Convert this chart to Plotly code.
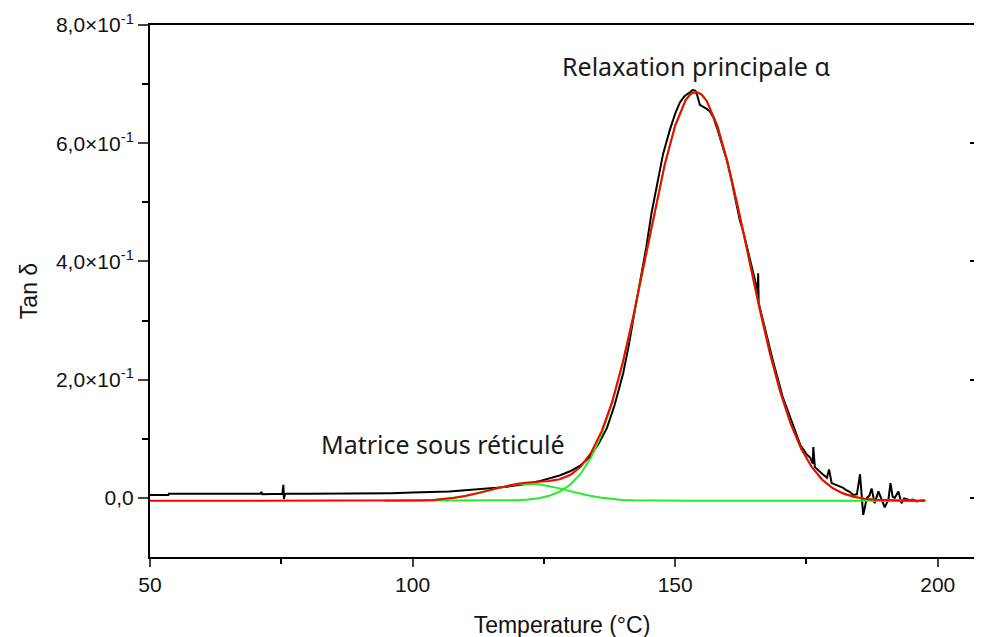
import plotly.graph_objs as go

# raw tan delta measurement (black)
black_T = [50, 53.5, 53.6, 71.0, 71.2, 71.4, 75.2, 75.4, 75.5, 75.7, 80, 90, 95.5, 96, 100, 104, 107, 110,
           113.4, 116, 118, 119.8, 122, 124, 126, 128, 130, 132, 133.8, 135.5, 137, 138.5, 140.1, 141.2,
           142.3, 143.6, 144.5, 145.5, 146.6, 147.7, 149, 150, 150.9, 151.8, 152.8, 153.3, 153.8, 154.2,
           154.7, 155.3, 156, 156.6, 157.3, 158, 158.5, 159.2, 159.8, 160.7, 161.5, 162.3, 163.1, 163.9,
           164.7, 165.5, 165.7, 165.8, 165.9, 166.5, 167.5, 168.5, 169.5, 170.5, 171.5, 172.5, 173.8,
           175.0, 175.7, 176.2, 176.3, 176.6, 177.4, 178.2, 178.9, 179.3, 179.8, 180.6, 181.4, 182.0,
           182.6, 183.3, 183.9, 184.6, 185.2, 185.5, 185.8, 186.5, 187.0, 187.4, 188, 188.7, 189.3, 189.9,
           190.6, 191, 191.4, 191.8, 192.5, 193.1, 193.6, 194.1, 194.7, 195.3, 196, 196.6, 197.1, 197.6]
black_tan = [0.005, 0.005, 0.007, 0.007, 0.010, 0.006, 0.007, 0.022, -0.002, 0.007, 0.007, 0.007, 0.007,
             0.008, 0.009, 0.010, 0.011, 0.013, 0.015, 0.017, 0.019, 0.021, 0.024, 0.028, 0.033, 0.038,
             0.045, 0.055, 0.070, 0.093, 0.118, 0.158, 0.211, 0.260, 0.316, 0.378, 0.424, 0.482, 0.535,
             0.582, 0.623, 0.650, 0.669, 0.680, 0.686, 0.690, 0.689, 0.681, 0.665, 0.662, 0.658, 0.654,
             0.643, 0.625, 0.611, 0.590, 0.572, 0.538, 0.503, 0.470, 0.446, 0.418, 0.386, 0.357, 0.343,
             0.380, 0.330, 0.310, 0.272, 0.236, 0.203, 0.170, 0.146, 0.120, 0.090, 0.074, 0.068, 0.058,
             0.086, 0.052, 0.045, 0.039, 0.034, 0.048, 0.025, 0.022, 0.019, 0.017, 0.013, 0.010, 0.005,
             0.006, 0.040, 0.004, -0.029, 0.000, 0.004, 0.016, -0.009, 0.011, -0.003, -0.016, -0.003,
             0.025, 0.002, 0.000, 0.011, -0.009, -0.001, -0.002, -0.004, -0.003, -0.006, -0.005, -0.004,
             -0.005]

# fitted components (green) and total fit (red)
fit_T = [94.7, 96, 98, 100, 102, 104, 106, 108, 110, 112, 114, 116, 118, 120, 122, 124, 126, 128, 130,
         132, 134, 136, 138, 140, 142, 144, 146, 148, 150, 152, 153, 154, 155, 156, 158, 160, 162, 164,
         166, 168, 170, 172, 174, 176, 178, 180, 182, 184, 186, 188, 190, 192, 194, 196, 197.6]
peak_matrice = [-0.005, -0.0049, -0.0048, -0.0046, -0.0042, -0.0034, -0.0020, 0.0001, 0.0031, 0.0069,
                0.0114, 0.0161, 0.0202, 0.0230, 0.0240, 0.0230, 0.0202, 0.0161, 0.0114, 0.0069, 0.0031,
                0.0001, -0.0020, -0.0034, -0.0042, -0.0046, -0.0048, -0.0049, -0.005, -0.005, -0.005,
                -0.005, -0.005, -0.005, -0.005, -0.005, -0.005, -0.005, -0.005, -0.005, -0.005, -0.005,
                -0.005, -0.005, -0.005, -0.005, -0.005, -0.005, -0.005, -0.005, -0.005, -0.005, -0.005,
                -0.005, -0.005]
peak_alpha = [-0.005, -0.005, -0.005, -0.005, -0.005, -0.005, -0.005, -0.005, -0.005, -0.005, -0.005,
              -0.005, -0.0046, -0.0040, -0.0028, -0.0006, 0.0035, 0.0105, 0.0223, 0.0409, 0.0686, 0.1079,
              0.1605, 0.2269, 0.3056, 0.3924, 0.4811, 0.5633, 0.6299, 0.6730, 0.6838, 0.6870, 0.6827,
              0.6716, 0.6301, 0.5673, 0.4901, 0.4062, 0.3229, 0.2459, 0.1794, 0.1251, 0.0831, 0.0522,
              0.0308, 0.0164, 0.0073, 0.0018, -0.0014, -0.0032, -0.0041, -0.0046, -0.0048, -0.0049, -0.005]
red_T = [50] + fit_T
red_fit = [-0.005, -0.005, -0.0049, -0.0048, -0.0046, -0.0042, -0.0034, -0.0020, 0.0001, 0.0031, 0.0069,
           0.0114, 0.0161, 0.0206, 0.0240, 0.0262, 0.0274, 0.0287, 0.0316, 0.0387, 0.0528, 0.0767, 0.1130,
           0.1625, 0.2285, 0.3064, 0.3928, 0.4813, 0.5634, 0.6299, 0.6730, 0.6838, 0.6870, 0.6827,
           0.6716, 0.6301, 0.5673, 0.4901, 0.4062, 0.3229, 0.2459, 0.1794, 0.1251, 0.0831, 0.0522,
           0.0308, 0.0164, 0.0073, 0.0018, -0.0014, -0.0032, -0.0041, -0.0046, -0.0048, -0.0049, -0.005]

y_ticks = [0.0, 0.2, 0.4, 0.6, 0.8]
y_labels = ['0,0', '2,0×10<sup>-1</sup>', '4,0×10<sup>-1</sup>', '6,0×10<sup>-1</sup>', '8,0×10<sup>-1</sup>']

fig = go.Figure()

# red fit sits on the mirrored right axis (same range) so that axis gets drawn
traces = [
    go.Scatter(x=black_T, y=black_tan, mode='lines', line=dict(color='black', width=2)),
    go.Scatter(x=fit_T, y=peak_matrice, mode='lines', line=dict(color='#22ee22', width=2)),
    go.Scatter(x=fit_T, y=peak_alpha, mode='lines', line=dict(color='#22ee22', width=2)),
    go.Scatter(x=red_T, y=red_fit, mode='lines', line=dict(color='#ff0000', width=2), yaxis='y2'),
]
fig.add_traces(traces)

tick_font = dict(family='Liberation Sans, Arial', size=21, color='#111111')
title_font = dict(family='Liberation Sans, Arial', size=23, color='#111111')
note_font = dict(family='Noto Sans', size=25, color='#1a1a1a')

# the page body adds an 8px offset, so margins are shifted to keep the plot box in place
layout = go.Layout(
    width=982, height=637,
    margin=dict(l=142, r=16, t=17, b=88, pad=0),
    paper_bgcolor='white', plot_bgcolor='white',
    showlegend=False,
    xaxis=dict(range=[50, 206.9], tickvals=[50, 100, 150, 200], ticks='outside', ticklen=8,
               tickwidth=1.5, showline=True, linecolor='black', linewidth=2, mirror=True,
               showgrid=False, zeroline=False, tickfont=tick_font, automargin=False,
               minor=dict(tickvals=[75, 125, 175], ticks='outside', ticklen=5, tickcolor='black'),
               title=dict(text='Temperature (°C)', font=title_font, standoff=22)),
    yaxis=dict(range=[-0.1, 0.8], tickvals=y_ticks, ticktext=y_labels, ticks='outside', ticklen=10,
               tickwidth=1.5, showline=True, linecolor='black', linewidth=2, showgrid=False,
               zeroline=False, tickfont=tick_font, automargin=False,
               minor=dict(tickvals=[0.1, 0.3, 0.5, 0.7], ticks='outside', ticklen=6, tickcolor='black'),
               title=dict(text='Tan δ', font=title_font, standoff=12)),
    yaxis2=dict(range=[-0.1, 0.8], overlaying='y', side='right', tickvals=[0.0, 0.2, 0.4, 0.6],
                ticks='inside', ticklen=4, tickwidth=2, tickcolor='black', showline=False,
                showgrid=False, zeroline=False, showticklabels=False, automargin=False),
    annotations=[
        dict(x=153.9, y=0.731, xref='x', yref='y', text='Relaxation principale α', showarrow=False,
             font=note_font),
        dict(x=105.8, y=0.091, xref='x', yref='y', text='Matrice sous réticulé', showarrow=False,
             font=note_font),
    ],
)
fig.update_layout(layout)

fig.write_html('out.html')
